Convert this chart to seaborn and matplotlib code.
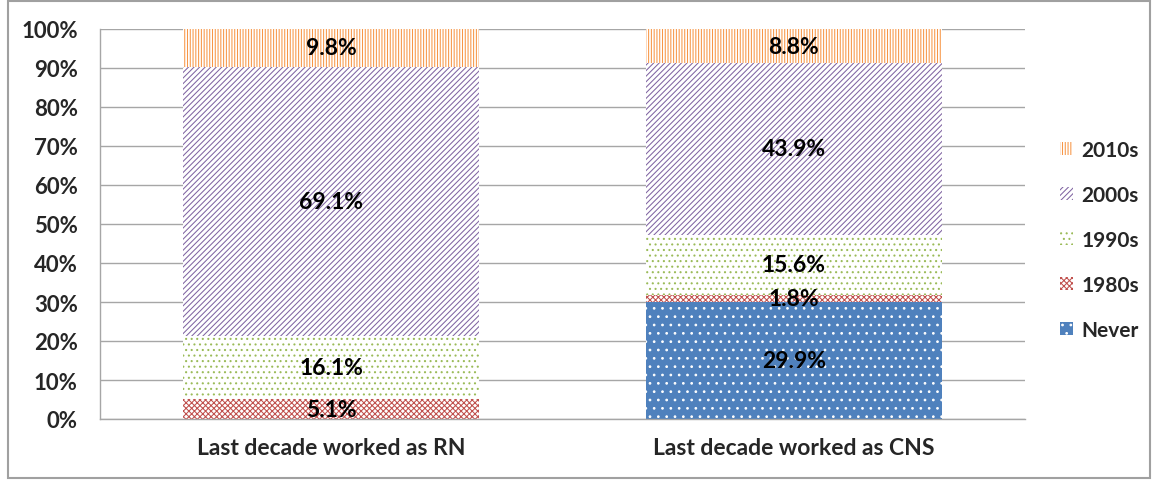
import matplotlib
matplotlib.use("Agg")
import matplotlib.pyplot as plt
import matplotlib.patches as mpatches
import seaborn as sns
import pandas as pd
import numpy as np

categories = ["Last decade worked as RN", "Last decade worked as CNS"]
series_names = ["Never", "1980s", "1990s", "2000s", "2010s"]
never = [0.0, 29.9]
s1980 = [5.1, 1.8]
s1990 = [16.1, 15.6]
s2000 = [69.1, 43.9]
s2010 = [9.8, 8.8]
yticks = [0, 10, 20, 30, 40, 50, 60, 70, 80, 90, 100]

values = [never, s1980, s1990, s2000, s2010]
styles = {
    "Never": dict(face="#4F81BD", edge="white", hatch=".."),
    "1980s": dict(face="white", edge="#C0504D", hatch="xxxxxx"),
    "1990s": dict(face="white", edge="#9BBB59", hatch="..."),
    "2000s": dict(face="white", edge="#8064A2", hatch="//////"),
    "2010s": dict(face="white", edge="#F79646", hatch="||||||"),
}

sns.set_theme(style="white")
plt.rcParams["font.family"] = ["Lato", "DejaVu Sans"]
plt.rcParams["hatch.linewidth"] = 0.75

fig = plt.figure(figsize=(11.54, 4.81), dpi=100)
ax = fig.add_axes([100 / 1154, 1 - 420 / 481, (1025 - 100) / 1154, (420 - 30) / 481])

cum = np.cumsum(np.array(values), axis=0)
handles = {}
# draw from top cumulative to bottom so lower segments cover upper ones
for i in range(len(series_names) - 1, -1, -1):
    name = series_names[i]
    st = styles[name]
    df = pd.DataFrame({"cat": categories, "top": cum[i]})
    n_before = len(ax.patches)
    sns.barplot(data=df, x="cat", y="top", order=categories, ax=ax,
                color=st["face"], saturation=1, width=0.64, linewidth=0,
                errorbar=None)
    for p in ax.patches[n_before:]:
        p.set_facecolor(st["face"])
        p.set_edgecolor(st["edge"])
        p.set_hatch(st["hatch"])
        p.set_linewidth(0)
    handles[name] = mpatches.Patch(facecolor=st["face"], edgecolor=st["edge"],
                                   hatch=st["hatch"], linewidth=0, label=name)

# labels
for i, name in enumerate(series_names):
    for j, cat in enumerate(categories):
        v = values[i][j]
        if v > 0:
            y = cum[i][j] - v / 2
            ax.text(j, y, f"{v:.1f}%", ha="center", va="center",
                    fontsize=16.5, fontweight="bold", color="black")

ax.set_xlim(-0.5, 1.5)
ax.set_ylim(0, 100)
ax.set_yticks(yticks)
ax.set_yticklabels([f"{t}%" for t in yticks])
ax.set_xlabel("")
ax.set_ylabel("")
ax.yaxis.grid(True, color="#A6A6A6", linewidth=1)
ax.set_axisbelow(True)
for s in ["top", "right"]:
    ax.spines[s].set_visible(False)
for s in ["left", "bottom"]:
    ax.spines[s].set_color("#A6A6A6")
    ax.spines[s].set_linewidth(1)
ax.tick_params(axis="y", length=0, pad=16, labelsize=16)
ax.tick_params(axis="x", length=0, pad=13, labelsize=16.5)
for lbl in ax.get_yticklabels() + ax.get_xticklabels():
    lbl.set_fontweight("bold")

leg_order = ["2010s", "2000s", "1990s", "1980s", "Never"]
leg = fig.legend([handles[n] for n in leg_order], leg_order,
                 loc="center left", bbox_to_anchor=(1050 / 1154, 1 - 241 / 481),
                 frameon=False, handlelength=0.6, handleheight=0.6,
                 handletextpad=0.4, labelspacing=1.2, borderpad=0,
                 prop={"weight": "bold", "size": 15})

fig.patches.append(mpatches.Rectangle((8 / 1154, 2 / 481), (1150 - 8) / 1154, (479 - 2) / 481,
                                      transform=fig.transFigure, fill=False,
                                      edgecolor="#A0A0A0", linewidth=1.5))

fig.savefig("out.png", dpi=100)
